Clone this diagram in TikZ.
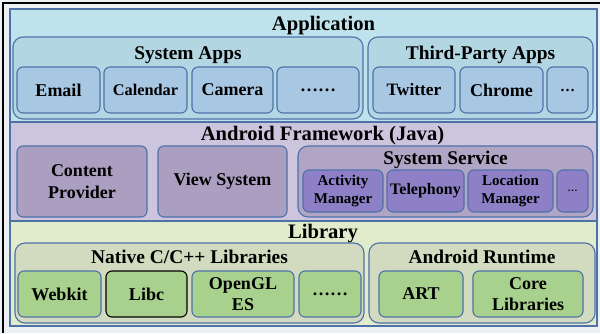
\documentclass[tikz,border=0pt]{standalone}
\usepackage{fontspec}
\setmainfont{Liberation Serif}
\definecolor{bord}{HTML}{4E72A8}
\definecolor{bgout}{HTML}{EEF1F4}
\definecolor{appL}{HTML}{BEE3EC}
\definecolor{appG}{HTML}{B3D6E3}
\definecolor{appI}{HTML}{A7C7E3}
\definecolor{fwL}{HTML}{CDC4DE}
\definecolor{fwB}{HTML}{AB9FC1}
\definecolor{fwG}{HTML}{B0A5C5}
\definecolor{fwI}{HTML}{8D80C6}
\definecolor{libL}{HTML}{E0ECCB}
\definecolor{libG}{HTML}{D2DBBF}
\definecolor{libI}{HTML}{A9D18E}
\newcommand{\fs}[2]{\fontsize{#1}{#2}\selectfont\bfseries}
\tikzset{
  layerbox/.style={draw=bord, line width=1.2pt, rectangle, inner sep=0pt},
  grpbox/.style={draw=bord, line width=1.1pt, rounded corners=10pt, inner sep=0pt},
  ibox/.style={draw=bord, line width=1.1pt, rounded corners=6pt, inner sep=0pt, align=center, font=\fs{18}{21.5}},
  ltitle/.style={anchor=base, inner sep=0pt, font=\fs{20.6}{24}},
  gtitle/.style={anchor=base, inner sep=0pt, font=\fs{19.4}{22}},
}
\begin{document}
\begin{tikzpicture}[x=1pt,y=-1pt]
\useasboundingbox (0,0) rectangle (600,333);
\fill[bgout] (0,0) rectangle (600,333);
\draw[black, line width=2pt] (3,333) -- (3,3) -- (600,3);
% layers
\node[layerbox, fill=appL, minimum width=587pt, minimum height=113pt] (app) at (303.5,65.5) {};
\node[layerbox, fill=fwL, minimum width=587pt, minimum height=99pt] (fw) at (303.5,171.5) {};
\node[layerbox, fill=libL, minimum width=587pt, minimum height=105pt] (lib) at (303.5,273.5) {};
\node[ltitle] (appT) at (323.5,30.5) {Application};
\node[ltitle] (fwT) at (322.5,140.5) {Android Framework (Java)};
\node[ltitle] (libT) at (323,238) {Library};
% application
\node[grpbox, fill=appG, minimum width=350pt, minimum height=82pt] (sysapps) at (188,78) {};
\node[grpbox, fill=appG, minimum width=225pt, minimum height=82pt] (third) at (480.5,78) {};
\node[gtitle] (sysappsT) at (188,59) {System Apps};
\node[gtitle] (thirdT) at (480.5,59) {Third-Party Apps};
\node[ibox, fill=appI, minimum width=83pt, minimum height=46pt] (email) at (58.5,90) {Email};
\node[ibox, fill=appI, minimum width=83pt, minimum height=46pt, font=\fs{16.3}{19}] (cal) at (145.5,90) {Calendar};
\node[ibox, fill=appI, minimum width=81pt, minimum height=46pt] (cam) at (232.5,90) {Camera};
\node[ibox, fill=appI, minimum width=82pt, minimum height=46pt] (adots) at (318,90) {……};
\node[ibox, fill=appI, minimum width=82pt, minimum height=46pt, font=\fs{17.4}{20}] (tw) at (414,90) {Twitter};
\node[ibox, fill=appI, minimum width=83pt, minimum height=46pt] (chr) at (501.5,90) {Chrome};
\node[ibox, fill=appI, minimum width=41pt, minimum height=46pt, font=\fs{15}{18}] (tdots) at (567.5,90) {…};
% framework
\node[ibox, fill=fwB, minimum width=130pt, minimum height=71pt] (cp) at (82,181.5) {Content\\Provider};
\node[ibox, fill=fwB, minimum width=129pt, minimum height=71pt] (vs) at (222.5,181.5) {View System};
\node[grpbox, fill=fwG, minimum width=295pt, minimum height=71pt] (ss) at (445.5,181.5) {};
\node[gtitle] (ssT) at (445.5,164) {System Service};
\node[ibox, fill=fwI, minimum width=80pt, minimum height=42pt, font=\fs{15}{18.7}] (am) at (343,191) {Activity\\Manager};
\node[ibox, fill=fwI, minimum width=77pt, minimum height=42pt, font=\fs{16}{19}] (tel) at (425.5,191) {Telephony};
\node[ibox, fill=fwI, minimum width=85pt, minimum height=42pt, font=\fs{15}{18.7}] (lm) at (510.5,191) {Location\\Manager};
\node[ibox, fill=fwI, minimum width=31pt, minimum height=42pt, font=\fs{10}{12}] (sdots) at (572.5,191) {…};
% library
\node[grpbox, fill=libG, minimum width=349pt, minimum height=80pt] (native) at (189.5,283) {};
\node[grpbox, fill=libG, minimum width=226pt, minimum height=80pt] (rt) at (482,283) {};
\node[gtitle] (nativeT) at (189.5,263) {Native C/C++ Libraries};
\node[gtitle] (rtT) at (482,263) {Android Runtime};
\node[ibox, fill=libI, minimum width=83pt, minimum height=46pt] (webkit) at (59.5,294) {Webkit};
\node[ibox, fill=libI, draw=black, minimum width=81pt, minimum height=46pt] (libc) at (146.5,294) {Libc};
\node[ibox, fill=libI, minimum width=102pt, minimum height=46pt] (gl) at (243,294) {OpenGL\\ES};
\node[ibox, fill=libI, minimum width=62pt, minimum height=46pt] (ldots) at (330,294) {……};
\node[ibox, fill=libI, minimum width=84pt, minimum height=46pt] (art) at (421,294) {ART};
\node[ibox, fill=libI, minimum width=110pt, minimum height=46pt] (core) at (528,294) {Core\\Libraries};
\end{tikzpicture}
\end{document}
